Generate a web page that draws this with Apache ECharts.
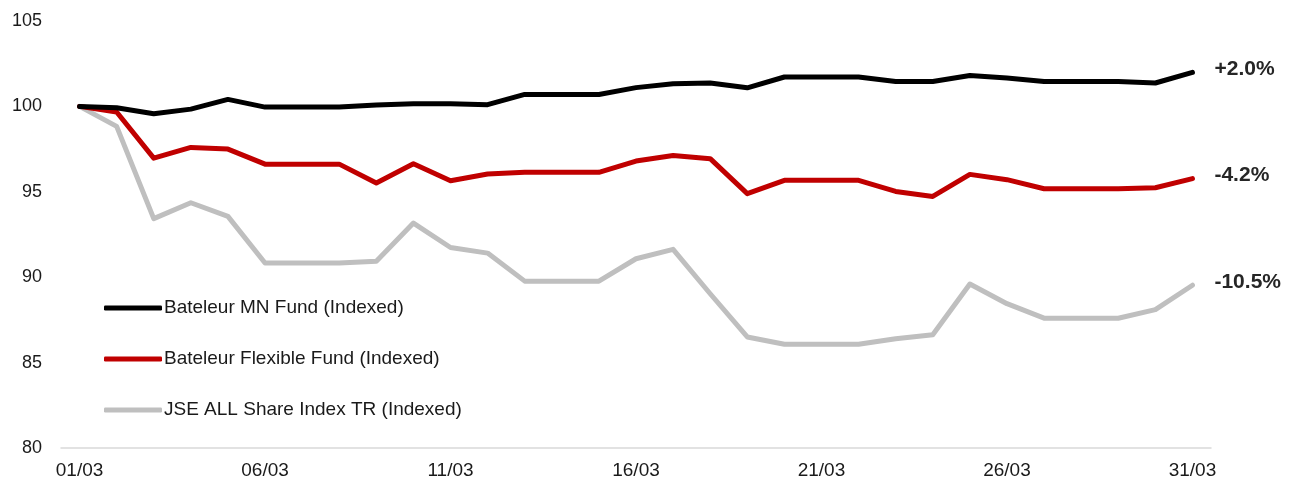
<!DOCTYPE html>
<html>
<head>
<meta charset="utf-8">
<script src="https://cdn.jsdelivr.net/npm/echarts@6/dist/echarts.min.js"></script>
<style>
html,body{margin:0;padding:0;background:#fff;}
#chart{width:1295px;height:486px;}
</style>
</head>
<body>
<div id="chart"></div>
<script>
const dates = ['01/03','02/03','03/03','04/03','05/03','06/03','07/03','08/03','09/03','10/03','11/03','12/03','13/03','14/03','15/03','16/03','17/03','18/03','19/03','20/03','21/03','22/03','23/03','24/03','25/03','26/03','27/03','28/03','29/03','30/03','31/03'];
const mnFund = [100.0,99.92,99.57,99.84,100.41,99.96,99.96,99.96,100.08,100.16,100.16,100.10,100.70,100.70,100.70,101.10,101.33,101.37,101.09,101.72,101.72,101.72,101.46,101.46,101.81,101.66,101.46,101.46,101.46,101.37,101.99];
const flexFund = [100.0,99.67,96.97,97.60,97.50,96.62,96.62,96.62,95.51,96.64,95.65,96.04,96.14,96.14,96.14,96.80,97.13,96.94,94.89,95.67,95.67,95.67,95.02,94.73,96.02,95.71,95.18,95.18,95.18,95.24,95.77];
const jseIndex = [100.0,98.83,93.43,94.36,93.56,90.83,90.83,90.83,90.94,93.17,91.74,91.41,89.77,89.77,89.77,91.08,91.63,89.03,86.50,86.07,86.07,86.07,86.40,86.63,89.60,88.45,87.60,87.60,87.60,88.10,89.53];
const seriesNames = ['Bateleur MN Fund (Indexed)','Bateleur Flexible Fund (Indexed)','JSE ALL Share Index TR (Indexed)'];
const endLabels = ['+2.0%','-4.2%','-10.5%'];
const colors = ['#000000','#C00000','#BFBFBF'];
const yTicks = [80,85,90,95,100,105];

const font = 'Liberation Sans, Arial, sans-serif';
const chart = echarts.init(document.getElementById('chart'));
const datasets = [mnFund, flexFund, jseIndex];
chart.setOption({
  animation:false,
  grid:{left:61,right:84,top:21,bottom:38},
  legend:{
    orient:'vertical', left:99, top:293,
    itemWidth:58, itemHeight:5, itemGap:31,
    data:seriesNames.map(n=>({name:n, icon:'roundRect'})),
    textStyle:{fontFamily:font,fontSize:19,color:'#1a1a1a',lineHeight:20,padding:[0,0,0,-3]}
  },
  xAxis:{
    type:'category', data:dates, boundaryGap:true,
    axisLine:{lineStyle:{color:'#D9D9D9',width:1.5}},
    axisTick:{show:false},
    axisLabel:{interval:4,fontFamily:font,fontSize:19,color:'#1a1a1a',margin:13}
  },
  yAxis:{
    type:'value', min:yTicks[0], max:yTicks[yTicks.length-1], interval:5,
    axisLine:{show:false}, axisTick:{show:false}, splitLine:{show:false},
    axisLabel:{fontFamily:font,fontSize:18,color:'#1a1a1a',margin:19}
  },
  series:datasets.map((d,i)=>({
    name:seriesNames[i], type:'line', data:d, symbol:'none',
    lineStyle:{color:colors[i],width:5,cap:'round',join:'round'},
    itemStyle:{color:colors[i]},
    z:3-i,
    endLabel:{show:true,formatter:endLabels[i],distance:22,offset:[0,-3],
      fontFamily:font,fontSize:21,fontWeight:'bold',color:'#262626'}
  }))
});
</script>
</body>
</html>
